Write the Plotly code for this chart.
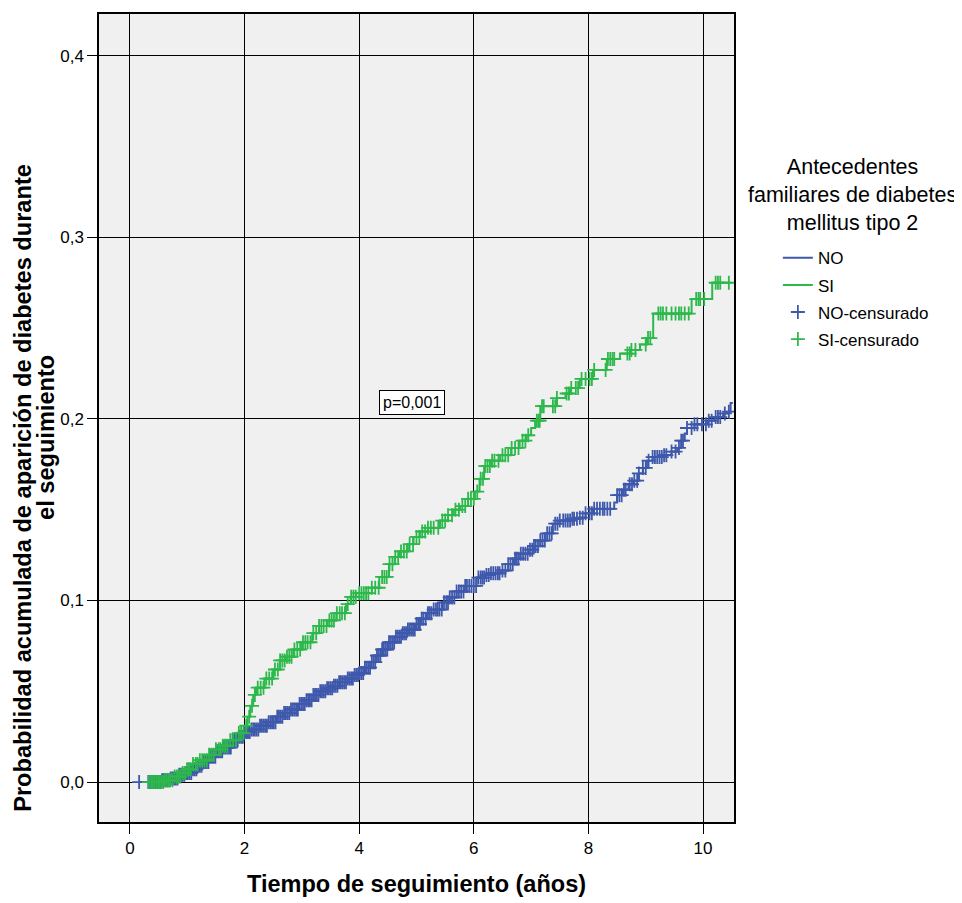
import numpy as np
import plotly.graph_objects as go

# ---- Data ----
no_t = [0.16, 0.55, 0.70, 0.85, 0.98, 1.08, 1.18, 1.28, 1.38, 1.50, 1.62, 1.78, 1.90, 2.00, 2.12,
        2.25, 2.40, 2.55, 2.68, 2.80, 2.95, 3.08, 3.20, 3.32, 3.42, 3.55, 3.65, 3.80, 3.92, 4.00,
        4.10, 4.20, 4.29, 4.40, 4.50, 4.62, 4.75, 4.85, 4.99, 5.08, 5.18, 5.30, 5.45, 5.58, 5.70,
        5.85, 6.05, 6.20, 6.30, 6.46, 6.60, 6.70, 6.81, 6.95, 7.05, 7.16, 7.25, 7.38, 7.50, 7.70,
        7.85, 7.95, 8.08, 8.45, 8.50, 8.60, 8.70, 8.78, 8.88, 8.95, 9.02, 9.12, 9.30, 9.45, 9.55,
        9.62, 9.68, 9.72, 9.85, 10.07, 10.20, 10.35, 10.42, 10.48, 10.52]
no_p = [0.000, 0.001, 0.002, 0.004, 0.005, 0.007, 0.009, 0.011, 0.014, 0.017, 0.019, 0.023, 0.025, 0.0275, 0.029,
        0.031, 0.033, 0.036, 0.038, 0.040, 0.043, 0.045, 0.048, 0.050, 0.0516, 0.053, 0.055, 0.057, 0.059, 0.060,
        0.063, 0.066, 0.0697, 0.073, 0.077, 0.080, 0.082, 0.084, 0.087, 0.090, 0.093, 0.095, 0.099, 0.1017, 0.105,
        0.108, 0.1126, 0.114, 0.115, 0.1165, 0.120, 0.123, 0.1258, 0.128, 0.130, 0.133, 0.137, 0.1423, 0.144, 0.145,
        0.1456, 0.148, 0.1505, 0.154, 0.158, 0.161, 0.164, 0.166, 0.170, 0.173, 0.177, 0.179, 0.180, 0.182, 0.184,
        0.188, 0.192, 0.195, 0.197, 0.199, 0.201, 0.203, 0.204, 0.2088, 0.2088]

si_t = [0.30, 0.60, 0.75, 0.90, 1.00, 1.10, 1.22, 1.35, 1.50, 1.62, 1.75, 1.88, 2.00, 2.05, 2.10,
        2.15, 2.20, 2.35, 2.50, 2.62, 2.72, 2.85, 3.00, 3.18, 3.30, 3.45, 3.60, 3.77, 3.85, 3.95,
        4.22, 4.35, 4.52, 4.62, 4.71, 4.85, 4.95, 5.06, 5.20, 5.41, 5.55, 5.65, 5.76, 5.90, 6.02,
        6.10, 6.18, 6.30, 6.46, 6.65, 6.80, 6.92, 7.00, 7.07, 7.16, 7.45, 7.60, 7.68, 7.85, 8.08,
        8.32, 8.55, 8.73, 8.90, 9.02, 9.13, 9.80, 10.16, 10.50]
si_p = [0.000, 0.001, 0.003, 0.005, 0.007, 0.010, 0.012, 0.015, 0.018, 0.020, 0.023, 0.027, 0.031, 0.036, 0.042,
        0.048, 0.052, 0.057, 0.062, 0.067, 0.069, 0.073, 0.077, 0.082, 0.086, 0.089, 0.093, 0.098, 0.102, 0.104,
        0.107, 0.113, 0.120, 0.124, 0.127, 0.131, 0.135, 0.138, 0.140, 0.144, 0.147, 0.150, 0.152, 0.156, 0.160,
        0.167, 0.174, 0.177, 0.180, 0.184, 0.188, 0.191, 0.195, 0.199, 0.207, 0.2115, 0.214, 0.217, 0.222, 0.227,
        0.233, 0.236, 0.238, 0.241, 0.2445, 0.258, 0.266, 0.275, 0.275]

no_cens = [0.16, 0.32, 0.35, 0.38, 0.41, 0.45, 0.48, 0.5, 0.53, 0.56, 0.59, 0.62, 0.65, 0.68, 0.71,
           0.74, 0.77, 0.8, 0.83, 0.86, 0.89, 0.92, 0.95, 0.98, 1.01, 1.04, 1.07, 1.1, 1.13, 1.16,
           1.19, 1.22, 1.25, 1.28, 1.31, 1.34, 1.37, 1.4, 1.43, 1.46, 1.49, 1.52, 1.55, 1.58, 1.61,
           1.64, 1.67, 1.7, 1.73, 1.76, 1.79, 1.82, 1.85, 1.88, 1.91, 1.94, 1.97, 2.0, 2.03, 2.06,
           2.09, 2.12, 2.15, 2.18, 2.21, 2.24, 2.27, 2.3, 2.33, 2.36, 2.39, 2.42, 2.45, 2.48, 2.51,
           2.54, 2.57, 2.6, 2.63, 2.66, 2.69, 2.72, 2.75, 2.78, 2.81, 2.84, 2.87, 2.9, 2.93, 2.96,
           2.99, 3.02, 3.05, 3.08, 3.11, 3.14, 3.17, 3.2, 3.23, 3.26, 3.29, 3.32, 3.35, 3.38, 3.41,
           3.44, 3.47, 3.5, 3.53, 3.56, 3.59, 3.62, 3.65, 3.68, 3.71, 3.74, 3.77, 3.8, 3.83, 3.86,
           3.89, 3.92, 3.95, 3.98, 4.01, 4.04, 4.07, 4.1, 4.13, 4.16, 4.19, 4.22, 4.25, 4.28, 4.31,
           4.34, 4.37, 4.4, 4.43, 4.46, 4.49, 4.52, 4.55, 4.58, 4.61, 4.64, 4.67, 4.7, 4.73, 4.76,
           4.79, 4.82, 4.85, 4.88, 4.91, 4.94, 4.97, 5.0, 5.03, 5.06, 5.09, 5.12, 5.16, 5.2, 5.23,
           5.26, 5.3, 5.34, 5.37, 5.4, 5.44, 5.48, 5.52, 5.55, 5.58, 5.62, 5.66, 5.7, 5.74, 5.78,
           5.82, 5.85, 5.88, 5.92, 5.96, 6.0, 6.04, 6.08, 6.12, 6.15, 6.18, 6.22, 6.26, 6.3, 6.34,
           6.38, 6.42, 6.45, 6.5, 6.55, 6.6, 6.64, 6.68, 6.72, 6.75, 6.78, 6.82, 6.86, 6.9, 6.94,
           6.98, 7.02, 7.05, 7.08, 7.12, 7.16, 7.2, 7.24, 7.28, 7.32, 7.36, 7.42, 7.46, 7.5, 7.56,
           7.6, 7.64, 7.68, 7.72, 7.75, 7.8, 7.85, 7.9, 7.95, 8.02, 8.06, 8.1, 8.15, 8.2, 8.25,
           8.28, 8.33, 8.38, 8.5, 8.54, 8.58, 8.62, 8.65, 8.72, 8.76, 8.8, 8.85, 8.88, 8.95, 9.0,
           9.05, 9.12, 9.16, 9.2, 9.24, 9.28, 9.32, 9.36, 9.45, 9.52, 9.58, 9.62, 9.65, 9.72, 9.8,
           9.85, 9.9, 9.98, 10.05, 10.1, 10.15, 10.22, 10.26, 10.3, 10.38, 10.45]
si_cens = [0.33, 0.37, 0.4, 0.43, 0.46, 0.49, 0.52, 0.55, 0.58, 0.61, 0.64, 0.67, 0.7, 0.74, 0.78,
           0.82, 0.85, 0.88, 0.92, 0.96, 1.0, 1.03, 1.06, 1.1, 1.15, 1.18, 1.22, 1.26, 1.3, 1.34,
           1.38, 1.42, 1.46, 1.5, 1.55, 1.58, 1.62, 1.66, 1.7, 1.75, 1.8, 1.85, 1.9, 1.94, 1.98,
           2.03, 2.08, 2.13, 2.18, 2.23, 2.28, 2.33, 2.38, 2.43, 2.48, 2.53, 2.58, 2.62, 2.66, 2.7,
           2.74, 2.78, 2.82, 2.87, 2.92, 2.97, 3.02, 3.06, 3.1, 3.15, 3.2, 3.25, 3.3, 3.34, 3.38,
           3.43, 3.48, 3.52, 3.56, 3.61, 3.66, 3.7, 3.75, 3.8, 3.86, 3.9, 3.94, 4.0, 4.04, 4.08,
           4.12, 4.16, 4.22, 4.28, 4.34, 4.4, 4.44, 4.48, 4.53, 4.58, 4.63, 4.68, 4.73, 4.78, 4.83,
           4.88, 4.94, 5.0, 5.05, 5.1, 5.15, 5.2, 5.25, 5.3, 5.38, 5.45, 5.5, 5.55, 5.62, 5.68,
           5.74, 5.8, 5.85, 5.9, 5.95, 6.0, 6.06, 6.12, 6.16, 6.2, 6.24, 6.28, 6.32, 6.36, 6.43,
           6.5, 6.55, 6.6, 6.66, 6.72, 6.78, 6.85, 6.9, 6.95, 7.1, 7.13, 7.15, 7.19, 7.22, 7.38,
           7.42, 7.45, 7.62, 7.66, 7.7, 7.78, 7.82, 7.88, 7.95, 8.02, 8.06, 8.1, 8.3, 8.34, 8.38,
           8.42, 8.45, 8.68, 8.72, 8.75, 8.82, 9.0, 9.04, 9.08, 9.22, 9.26, 9.3, 9.36, 9.45, 9.52,
           9.58, 9.62, 9.68, 9.75, 9.88, 9.92, 9.95, 10.02, 10.22, 10.26, 10.3, 10.45]

x_ticks = [0, 2, 4, 6, 8, 10]
y_ticks = [0.0, 0.1, 0.2, 0.3, 0.4]
p_value_text = "p=0,001"
legend_title = "Antecedentes<br>familiares de diabetes<br>mellitus tipo 2"
y_title_1 = "Probabilidad acumulada de aparición de diabetes durante"
y_title_2 = "el seguimiento"
x_title = "Tiempo de seguimiento (años)"

BLUE = "#3e58ac"
GREEN = "#2db84b"
FONT = "Liberation Sans, Arial, sans-serif"


def km_at(times, probs, q):
    """Value of the step curve at censor times (right-continuous)."""
    idx = np.searchsorted(np.array(times), np.array(q), side="right") - 1
    idx = np.clip(idx, 0, len(probs) - 1)
    return np.array(probs)[idx]


fig = go.Figure()
fig.add_trace(go.Scatter(x=no_t, y=no_p, mode="lines", line=dict(color=BLUE, width=2, shape="hv"),
                         name="NO", legendgroup="a"))
fig.add_trace(go.Scatter(x=si_t, y=si_p, mode="lines", line=dict(color=GREEN, width=2, shape="hv"),
                         name="SI", legendgroup="b"))
fig.add_trace(go.Scatter(x=no_cens, y=km_at(no_t, no_p, no_cens), mode="markers",
                         marker=dict(symbol="cross-thin-open", size=10, color=BLUE,
                                     line=dict(color=BLUE, width=1.8)),
                         name="NO-censurado", legendgroup="c"))
fig.add_trace(go.Scatter(x=si_cens, y=km_at(si_t, si_p, si_cens), mode="markers",
                         marker=dict(symbol="cross-thin-open", size=10, color=GREEN,
                                     line=dict(color=GREEN, width=1.8)),
                         name="SI-censurado", legendgroup="d"))

fig.add_annotation(x=4.92, y=0.209, xref="x", yref="y", text=p_value_text, showarrow=False,
                   font=dict(family=FONT, size=16, color="black"), bgcolor="white",
                   bordercolor="black", borderwidth=1, borderpad=3)

# y-axis title (two lines, placed as in the reference)
fig.add_annotation(x=-0.1197, y=0.4136, xref="paper", yref="paper", textangle=-90,
                   xanchor="center", yanchor="middle", text="<b>" + y_title_1 + "</b>",
                   showarrow=False, font=dict(family=FONT, size=23.6, color="black"))
fig.add_annotation(x=-0.0835, y=0.4765, xref="paper", yref="paper", textangle=-90,
                   xanchor="center", yanchor="middle", text="<b>" + y_title_2 + "</b>",
                   showarrow=False, font=dict(family=FONT, size=23.6, color="black"))

# legend title
fig.add_annotation(x=1.186, y=0.776, xref="paper", yref="paper", xanchor="center", yanchor="middle",
                   text=legend_title, showarrow=False, align="center",
                   font=dict(family=FONT, size=21.5, color="black"))

fig.update_layout(
    width=954, height=895,
    margin=dict(l=91, r=228, t=4, b=81),
    paper_bgcolor="white", plot_bgcolor="#f0f0f0",
    separators=",.",
    font=dict(family=FONT, size=17, color="black"),
    legend=dict(
        xref="container", yref="container",
        x=0.807, y=0.7405, xanchor="left", yanchor="top",
        font=dict(size=17), traceorder="grouped", tracegroupgap=2,
        bgcolor="rgba(0,0,0,0)",
    ),
    xaxis=dict(
        range=[-0.54, 10.54], tickvals=x_ticks, ticks="outside", ticklen=10, tickcolor="black",
        showgrid=True, gridcolor="black", gridwidth=1.2, zeroline=False,
        showline=True, linecolor="black", linewidth=1.5, mirror=True,
        title=dict(text="<b>" + x_title + "</b>", font=dict(size=23.5), standoff=18),
        tickfont=dict(size=17),
    ),
    yaxis=dict(
        range=[-0.022, 0.423], tickvals=y_ticks, tickformat=".1f", ticks="outside", ticklen=10,
        tickcolor="black", showgrid=True, gridcolor="black", gridwidth=1.2, zeroline=False,
        showline=True, linecolor="black", linewidth=1.5, mirror=True,
        tickfont=dict(size=17),
    ),
)

fig.write_html("out.html")
